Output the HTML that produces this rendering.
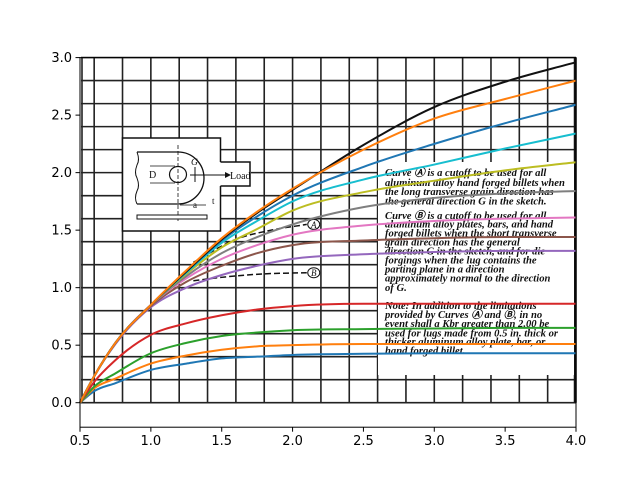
<!DOCTYPE html>
<html><head><meta charset="utf-8">
<style>
html,body{margin:0;padding:0;background:#fff;}
svg{display:block;}
.tk{font-family:"DejaVu Sans","Liberation Sans",sans-serif;font-size:13px;fill:#000;}
.nt{font-family:"Liberation Serif",serif;font-style:italic;font-weight:bold;font-size:10.6px;fill:#111;}
</style></head>
<body>
<svg id="chart" width="640" height="480" viewBox="0 0 640 480">
<g id="grid"></g>
<g id="sketch">
  <rect x="122.5" y="138" width="98" height="93" fill="#fff" stroke="#111" stroke-width="1.5"/>
  <rect x="219" y="162" width="32" height="24" fill="#fff" stroke="none"/>
  <path d="M220.5 162 H250 V186 H220.5" fill="none" stroke="#111" stroke-width="1.5"/>
  <path d="M137 152 H178 A26 26 0 0 1 178 204 H137" fill="none" stroke="#111" stroke-width="1.3"/>
  <path d="M137 152 q3 8 0 13 q-3 8 0 13 q3 8 0 13 q-3 7 0 13" fill="none" stroke="#111" stroke-width="1"/>
  <ellipse cx="178" cy="174.5" rx="8.5" ry="8" fill="#fff" stroke="#111" stroke-width="1.2"/>
  <line x1="178" y1="145" x2="178" y2="222" stroke="#111" stroke-width="0.8" stroke-dasharray="4,2"/>
  <line x1="190" y1="175" x2="225" y2="175" stroke="#111" stroke-width="1"/>
  <polygon points="225,172 231,175 225,178" fill="#111"/>
  <text x="230" y="179" font-family="Liberation Serif,serif" font-size="10" fill="#111">Load</text>
  <text x="149" y="178" font-family="Liberation Serif,serif" font-size="10" fill="#111">D</text>
  <text x="191" y="165" font-family="Liberation Serif,serif" font-style="italic" font-size="9.5" fill="#111">G</text>
  <line x1="195" y1="167" x2="195" y2="182" stroke="#111" stroke-width="1"/>
  <line x1="150" y1="166" x2="175" y2="166" stroke="#111" stroke-width="0.8"/>
  <line x1="150" y1="183" x2="175" y2="183" stroke="#111" stroke-width="0.8"/>
  <text x="193" y="208" font-family="Liberation Serif,serif" font-size="9" fill="#111">a</text>
  <line x1="180" y1="205" x2="206" y2="205" stroke="#111" stroke-width="0.8"/>
  <text x="212" y="204" font-family="Liberation Serif,serif" font-size="9" fill="#111">t</text>
  <rect x="137" y="215" width="70" height="4" fill="#fff" stroke="#111" stroke-width="1"/>
</g>
<g>
  <rect x="378" y="162" width="196" height="213" fill="#fff"/>
  <text class="nt" x="385" y="176">Curve Ⓐ is a cutoff to be used for all</text>
  <text class="nt" x="385" y="186">aluminum alloy hand forged billets when</text>
  <text class="nt" x="385" y="195">the long transverse grain direction has</text>
  <text class="nt" x="385" y="204.5">the general direction G in the sketch.</text>
  <text class="nt" x="385" y="219">Curve Ⓑ is a cutoff to be used for all</text>
  <text class="nt" x="385" y="227.5">aluminum alloy plates, bars, and hand</text>
  <text class="nt" x="385" y="236.5">forged billets when the short transverse</text>
  <text class="nt" x="385" y="245.5">grain direction has the general</text>
  <text class="nt" x="385" y="254.5">direction G in the sketch, and for die</text>
  <text class="nt" x="385" y="263.5">forgings when the lug contains the</text>
  <text class="nt" x="385" y="272.5">parting plane in a direction</text>
  <text class="nt" x="385" y="281.5">approximately normal to the direction</text>
  <text class="nt" x="385" y="291">of G.</text>
  <text class="nt" x="385" y="309">Note: In addition to the limitations</text>
  <text class="nt" x="385" y="318">provided by Curves Ⓐ and Ⓑ, in no</text>
  <text class="nt" x="385" y="327">event shall a Kbr greater than 2.00 be</text>
  <text class="nt" x="385" y="336.5">used for lugs made from 0.5 in. thick or</text>
  <text class="nt" x="385" y="345">thicker aluminum alloy plate, bar, or</text>
  <text class="nt" x="385" y="354">hand forged billet.</text>
</g>
<g id="dashed"></g>
<g id="curves"></g>
<g id="axes"></g>
</svg>
<script>
const xSamples = [0.5, 0.6, 0.75, 1.0, 1.25, 1.5, 1.75, 2.0, 2.5, 3.0, 3.5, 4.0];
const seriesBlack  = [0, 0.23, 0.52, 0.85, 1.14, 1.42, 1.65, 1.85, 2.24, 2.57, 2.79, 2.96];
const seriesOrange = [0, 0.23, 0.52, 0.85, 1.15, 1.43, 1.66, 1.86, 2.20, 2.47, 2.64, 2.80];
const seriesBlue   = [0, 0.23, 0.52, 0.85, 1.14, 1.41, 1.62, 1.80, 2.05, 2.25, 2.43, 2.59];
const seriesCyan   = [0, 0.23, 0.52, 0.85, 1.13, 1.39, 1.58, 1.75, 1.94, 2.07, 2.21, 2.34];
const seriesOlive  = [0, 0.23, 0.52, 0.85, 1.12, 1.35, 1.51, 1.67, 1.83, 1.93, 2.02, 2.09];
const seriesGray   = [0, 0.23, 0.52, 0.85, 1.10, 1.30, 1.44, 1.55, 1.70, 1.78, 1.82, 1.84];
const seriesPink   = [0, 0.23, 0.52, 0.85, 1.08, 1.25, 1.37, 1.46, 1.54, 1.58, 1.60, 1.61];
const seriesBrown  = [0, 0.23, 0.52, 0.84, 1.05, 1.19, 1.30, 1.37, 1.41, 1.43, 1.44, 1.44];
const seriesPurple = [0, 0.23, 0.51, 0.83, 1.00, 1.11, 1.19, 1.25, 1.29, 1.31, 1.32, 1.32];
const seriesRed    = [0, 0.18, 0.37, 0.59, 0.69, 0.76, 0.81, 0.84, 0.86, 0.86, 0.86, 0.86];
const seriesGreen  = [0, 0.14, 0.255, 0.43, 0.52, 0.58, 0.61, 0.63, 0.64, 0.645, 0.65, 0.65];
const seriesOrange2= [0, 0.125, 0.21, 0.34, 0.41, 0.46, 0.49, 0.50, 0.51, 0.51, 0.51, 0.51];
const seriesBlue2  = [0, 0.10, 0.17, 0.285, 0.34, 0.385, 0.40, 0.415, 0.425, 0.43, 0.43, 0.43];
const cutoffAx = [1.3, 1.6, 1.85, 2.1];
const cutoffAy = [1.22, 1.42, 1.50, 1.55];
const cutoffBx = [1.3, 1.5, 1.8, 2.1];
const cutoffBy = [1.06, 1.09, 1.12, 1.13];
const xTicks = [0.5, 1.0, 1.5, 2.0, 2.5, 3.0, 3.5, 4.0];
const yTicks = [0.0, 0.5, 1.0, 1.5, 2.0, 2.5, 3.0];
const xTickLabels = ["0.5","1.0","1.5","2.0","2.5","3.0","3.5","4.0"];
const yTickLabels = ["0.0","0.5","1.0","1.5","2.0","2.5","3.0"];

const L=80,R=576,T=57.6,B=427.2,XMIN=0.5,XMAX=4.0,YMIN=-0.213,YMAX=3.0;
const sx=v=>L+(v-XMIN)/(XMAX-XMIN)*(R-L);
const sy=v=>B-(v-YMIN)/(YMAX-YMIN)*(B-T);
const NS="http://www.w3.org/2000/svg";
function mk(tag,attrs,parent){const e=document.createElementNS(NS,tag);for(const k in attrs)e.setAttribute(k,attrs[k]);parent.appendChild(e);return e;}

const grid=document.getElementById('grid');
for(let i=0;i<=15;i++){const v=i*0.2;const y=sy(v);
  const ln=mk('line',{x1:81,x2:576,y1:y,y2:y,stroke:'#222','stroke-width':1.6},grid);
  
  }
for(let v=0.6;v<=4.01;v+=0.2){const x=sx(v);
  const ln=mk('line',{x1:x,x2:x,y1:sy(3.0),y2:sy(0),stroke:'#222','stroke-width':1.6},grid);
  
  }
{const e=mk('line',{x1:82,x2:82,y1:sy(3.0),y2:sy(0),stroke:'#222','stroke-width':1.6},grid);
 
 
 const f=mk('line',{x1:575,x2:575,y1:sy(3.0),y2:sy(0),stroke:'#111','stroke-width':2.5},grid);
 
 }

// monotone cubic (Fritsch-Carlson)
function smooth(xs,ys){
  const n=xs.length,X=xs.map(sx),Y=ys.map(sy);
  const d=[],m=[];
  for(let i=0;i<n-1;i++)d.push((Y[i+1]-Y[i])/(X[i+1]-X[i]));
  m[0]=d[0];m[n-1]=d[n-2];
  for(let i=1;i<n-1;i++){
    if(d[i-1]*d[i]<=0){m[i]=0;continue;}
    const h0=X[i]-X[i-1],h1=X[i+1]-X[i];
    m[i]=(d[i-1]*h1+d[i]*h0)/(h0+h1);
  }
  for(let i=0;i<n-1;i++){
    if(d[i]===0){m[i]=0;m[i+1]=0;continue;}
    const a=m[i]/d[i],b=m[i+1]/d[i],s=a*a+b*b;
    if(s>9){const t=3/Math.sqrt(s);m[i]=t*a*d[i];m[i+1]=t*b*d[i];}
  }
  let p=`M${X[0]},${Y[0]}`;
  for(let i=0;i<n-1;i++){const h=(X[i+1]-X[i])/3;
    p+=` C${X[i]+h},${Y[i]+m[i]*h} ${X[i+1]-h},${Y[i+1]-m[i+1]*h} ${X[i+1]},${Y[i+1]}`;}
  return p;
}
const dg=document.getElementById('dashed');
[[cutoffAx,cutoffAy,'A'],[cutoffBx,cutoffBy,'B']].forEach(([xs,ys,lab])=>{
  const p=mk('path',{d:smooth(xs,ys),fill:'none',stroke:'#111','stroke-width':1.5,'stroke-dasharray':'6,3'},dg);
  
  
  const cx=sx(xs[xs.length-1])+7,cy=sy(ys[ys.length-1]);
  const c=mk('ellipse',{cx:cx,cy:cy,rx:6,ry:5,fill:'#fff',stroke:'#111','stroke-width':1},dg);
  
  
  const t=mk('text',{x:cx,y:cy+3.5,'text-anchor':'middle','font-family':'Liberation Serif,serif','font-style':'italic','font-size':9,fill:'#111'},dg);
  t.textContent=lab;
  
  
});

const cg=document.getElementById('curves');
const series=[[seriesBlue2,'#1f77b4','blue-lower'],[seriesOrange2,'#ff7f0e','orange-lower'],[seriesGreen,'#2ca02c','green'],[seriesRed,'#d62728','red'],
 [seriesPurple,'#9467bd','purple'],[seriesBrown,'#8c564b','brown'],[seriesPink,'#e377c2','pink'],[seriesGray,'#7f7f7f','gray'],
 [seriesOlive,'#bcbd22','olive'],[seriesCyan,'#17becf','cyan'],[seriesBlue,'#1f77b4','blue-upper'],[seriesBlack,'#111111','black'],[seriesOrange,'#ff7f0e','orange-upper']];
series.forEach(([ys,col,nm])=>{
  const p=mk('path',{d:smooth(xSamples,ys),fill:'none',stroke:col,'stroke-width':2},cg);
  
  
});

const ax=document.getElementById('axes');
{const r=mk('rect',{x:L,y:T,width:R-L,height:B-T,fill:'none',stroke:'#000','stroke-width':1},ax);
 
 }
xTicks.forEach((v,i)=>{const x=sx(v);
  const l=mk('line',{x1:x,x2:x,y1:B,y2:B+4.5,stroke:'#000','stroke-width':1},ax);
  
  
  const t=mk('text',{x:x,y:B+18,'text-anchor':'middle',class:'tk'},ax);
  t.textContent=xTickLabels[i];
  
  });
yTicks.forEach((v,i)=>{const y=sy(v);
  const l=mk('line',{x1:L-4.5,x2:L,y1:y,y2:y,stroke:'#000','stroke-width':1},ax);
  
  
  const t=mk('text',{x:L-8,y:y+4.5,'text-anchor':'end',class:'tk'},ax);
  t.textContent=yTickLabels[i];
  
  });
</script>
</body></html>
